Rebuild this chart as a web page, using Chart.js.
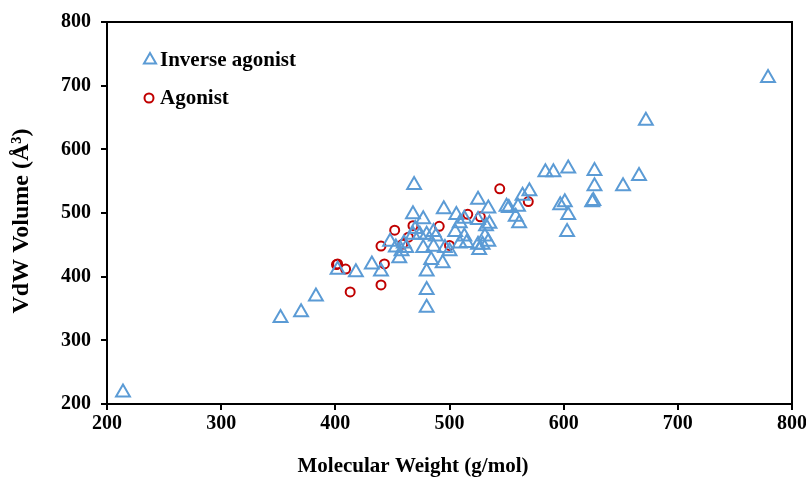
<!DOCTYPE html>
<html>
<head>
<meta charset="utf-8">
<script src="https://cdn.jsdelivr.net/npm/chart.js@4"></script>
<style>
  html, body { margin: 0; padding: 0; background: #fff; }
  #wrap { width: 806px; height: 477px; }
</style>
</head>
<body>
<div id="wrap"><canvas id="vdwChart" width="806" height="477"></canvas></div>
<script>
// Inverse agonists: molecular weight vs VdW volume
const inverseMW = [214, 352, 370, 383, 402, 418, 432, 440, 453, 456, 458, 462, 448, 460,
  469, 468, 468, 474, 480, 477, 470, 480, 480, 480, 484, 477, 486, 488, 486, 494, 495, 496,
  500, 505, 506, 509, 509, 513, 513, 515, 525, 525, 525, 526, 529, 531, 532, 534, 534, 535,
  550, 552, 560, 558, 561, 564, 570, 584, 591, 604, 597, 601, 604, 603, 627, 627, 625, 626,
  652, 666, 672, 779];
const inverseVol = [218, 335, 344, 369, 411, 407, 419, 408, 446, 429, 440, 445, 455, 452,
  544, 498, 466, 466, 466, 490, 475, 408, 379, 351, 426, 445, 447, 463, 470, 421, 506, 445,
  440, 470, 497, 484, 452, 491, 463, 453, 521, 489, 450, 442, 450, 463, 479, 507, 455, 483,
  510, 508, 510, 494, 484, 527, 534, 564, 564, 570, 512, 517, 497, 470, 566, 542, 517, 519,
  542, 558, 645, 712];

// Agonists
const agonistMW = [401, 402, 409, 413, 440, 443, 440, 452, 459, 464, 468, 491, 500, 516, 527, 544, 569];
const agonistVol = [419, 420, 412, 376, 387, 420, 448, 473, 451, 462, 480, 479, 449, 498, 494, 538, 518];

const axisTicks = [200, 300, 400, 500, 600, 700, 800];
const xTitle = 'Molecular Weight (g/mol)';
const yTitle = 'VdW Volume (Å³)';

const blue = '#5B9BD5';
const red = '#C00000';
const serif = "'Liberation Serif', 'Times New Roman', serif";

function toPoints(xs, ys) {
  return xs.map((x, i) => ({ x: x, y: ys[i] }));
}

// frame on top/right, axis titles and legend drawn inside the plot
const framePlugin = {
  id: 'frame',
  afterDraw(chart) {
    const { ctx, chartArea: a } = chart;
    ctx.save();
    ctx.strokeStyle = '#000';
    ctx.lineWidth = 2;
    ctx.beginPath();
    ctx.moveTo(a.left, a.top);
    ctx.lineTo(a.right, a.top);
    ctx.lineTo(a.right, a.bottom);
    ctx.stroke();

    // legend
    ctx.strokeStyle = blue;
    const tx = 150, ty = 60, r = 7;
    ctx.beginPath();
    ctx.moveTo(tx, ty - r);
    ctx.lineTo(tx + r * 0.866, ty + r * 0.5);
    ctx.lineTo(tx - r * 0.866, ty + r * 0.5);
    ctx.closePath();
    ctx.stroke();
    ctx.strokeStyle = red;
    ctx.beginPath();
    ctx.arc(149, 98, 4.5, 0, Math.PI * 2);
    ctx.stroke();

    ctx.fillStyle = '#000';
    ctx.font = 'bold 21px ' + serif;
    ctx.textBaseline = 'middle';
    ctx.textAlign = 'left';
    ctx.fillText('Inverse agonist', 160, 61);
    ctx.fillText('Agonist', 160, 99);

    // axis titles
    ctx.textAlign = 'center';
    ctx.fillText(xTitle, 413, 467);
    ctx.translate(22, 221);
    ctx.rotate(-Math.PI / 2);
    ctx.font = 'bold 24px ' + serif;
    ctx.fillText(yTitle, 0, 0);
    ctx.restore();
  }
};

const ctx = document.getElementById('vdwChart').getContext('2d');
const vdwChart = new Chart(ctx, {
  type: 'scatter',
  data: {
    datasets: [{
      label: 'Inverse agonist',
      data: toPoints(inverseMW, inverseVol),
      pointStyle: 'triangle',
      pointRadius: 8,
      pointBorderWidth: 2,
      borderColor: blue,
      backgroundColor: 'rgba(0,0,0,0)'
    }, {
      label: 'Agonist',
      data: toPoints(agonistMW, agonistVol),
      pointStyle: 'circle',
      pointRadius: 4.5,
      pointBorderWidth: 2,
      borderColor: red,
      backgroundColor: 'rgba(0,0,0,0)'
    }]
  },
  options: {
    responsive: false,
    animation: false,
    layout: { padding: { top: 22, right: 14, bottom: 0, left: 0 } },
    plugins: {
      legend: { display: false },
      tooltip: { enabled: false }
    },
    scales: {
      x: {
        type: 'linear',
        min: 200,
        max: 800,
        afterBuildTicks: (s) => { s.ticks = axisTicks.map(v => ({ value: v })); },
        afterFit: (s) => { s.height = 73; s.paddingLeft = 0; s.paddingRight = 0; },
        border: { display: true, color: '#000', width: 2 },
        grid: { drawOnChartArea: false, drawTicks: true, tickLength: 6, color: '#000', lineWidth: 2 },
        ticks: {
          color: '#000',
          padding: 2,
          maxRotation: 0,
          font: { family: serif, size: 20, weight: 'bold' }
        }
      },
      y: {
        type: 'linear',
        min: 200,
        max: 800,
        afterBuildTicks: (s) => { s.ticks = axisTicks.map(v => ({ value: v })); },
        afterFit: (s) => { s.width = 107; s.paddingTop = 0; s.paddingBottom = 0; },
        border: { display: true, color: '#000', width: 2 },
        grid: { drawOnChartArea: false, drawTicks: true, tickLength: 6, color: '#000', lineWidth: 2 },
        ticks: {
          color: '#000',
          padding: 10,
          font: { family: serif, size: 20, weight: 'bold' }
        }
      }
    }
  },
  plugins: [framePlugin]
});
</script>
</body>
</html>
